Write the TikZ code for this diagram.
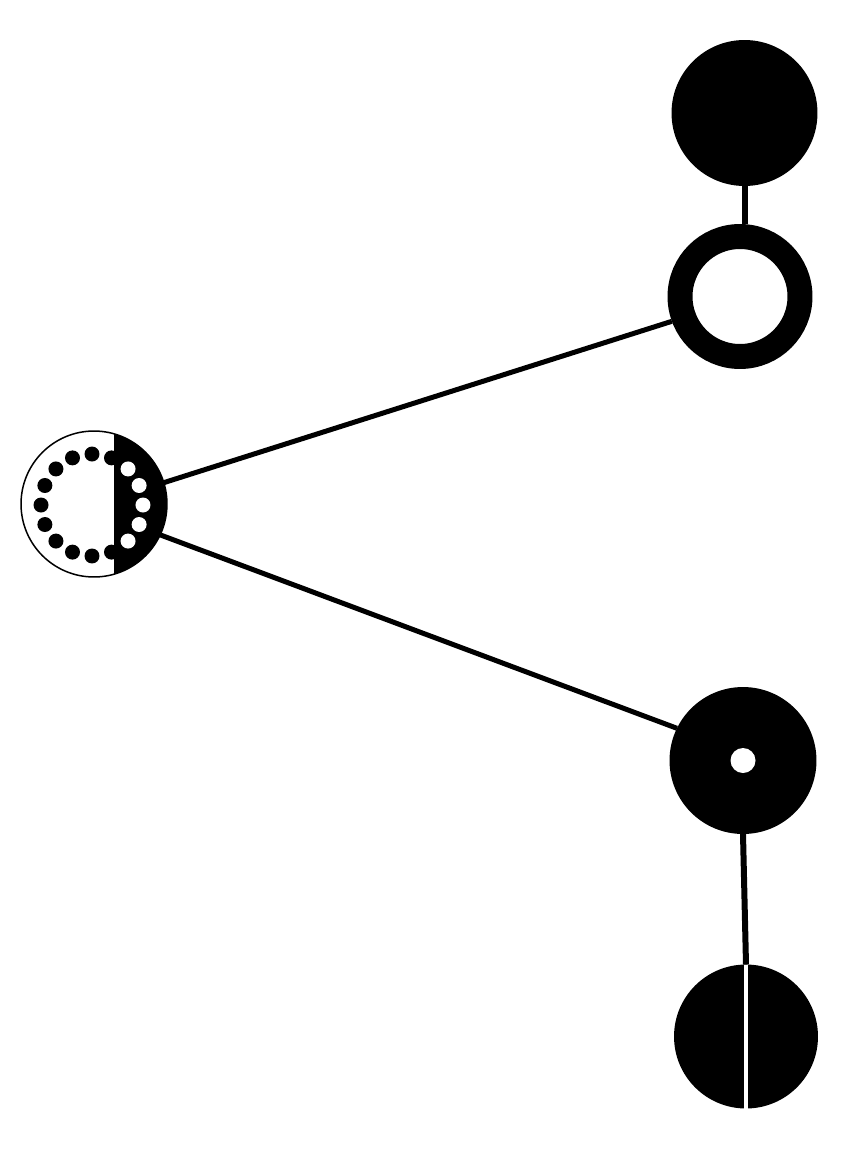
\documentclass[tikz,border=0pt]{standalone}
\begin{document}
\begin{tikzpicture}[x=0.02cm,y=-0.02cm,
  disc/.style={circle,fill=black,inner sep=0pt,outer sep=0pt},
  link/.style={line width=0.1cm},
  stem/.style={line width=0.12cm},
  gapline/.style={white,line width=0.07cm}]
\useasboundingbox (0,0) rectangle (840,1163);
\fill[white] (0,0) rectangle (840,1163);
% nodes
\node[disc,minimum size=2.92cm] (top) at (744.5,113) {};
\node[circle,draw=black,line width=0.5cm,minimum size=2.4cm,inner sep=0pt] (ring) at (740,296.5) {};
\node[disc,minimum size=2.94cm] (mid) at (743,760.5) {};
\node[circle,fill=white,minimum size=0.5cm,inner sep=0pt] (hole) at (743,760.5) {};
\node[disc,minimum size=2.88cm] (bot) at (746,1036.5) {};
\node[circle,minimum size=2.92cm,inner sep=0pt,outer sep=0pt] (hub) at (94,504) {};
% hub decoration
\begin{scope}
\clip (hub.center) circle (1.46cm);
\fill[black] (114.3,400) rectangle (200,620);
\end{scope}
\foreach \a in {67.5,90,...,292.5}
  \fill[black] (92,505) ++(\a:1.02cm) circle (0.15cm);
\foreach \a in {-45,-22.5,...,45}
  \fill[white] (92,505) ++(\a:1.02cm) circle (0.15cm);
\draw[line width=0.03cm] (hub.center) circle (1.46cm);
% connectors
\draw[link] (hub.17) -- (ring.200);
\draw[link] (hub.-25) -- (mid.154);
\draw[stem] (top.south) -- (top.south |- ring.north);
\draw[stem] (mid.south) -- (bot.north);
\draw[gapline] (bot.north) -- (bot.south);
\end{tikzpicture}
\end{document}
